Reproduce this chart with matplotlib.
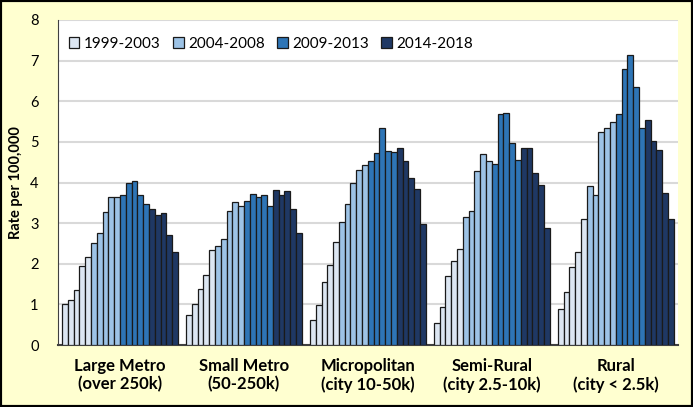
import matplotlib.pyplot as plt
import matplotlib.patches as patches
import numpy as np

plt.rcParams['font.family'] = ['Lato', 'DejaVu Sans']

# categories and yearly rates (1999-2018) per category
categories = ['Large Metro\n(over 250k)', 'Small Metro\n(50-250k)', 'Micropolitan\n(city 10-50k)',
              'Semi-Rural\n(city 2.5-10k)', 'Rural\n(city < 2.5k)']
periods = ['1999-2003', '2004-2008', '2009-2013', '2014-2018']
colors = ['#DCE6F2', '#9DC3E6', '#2E75B6', '#1F3864']

large_metro = [1.00, 1.11, 1.35, 1.94, 2.17, 2.52, 2.77, 3.27, 3.65, 3.65,
               3.70, 3.99, 4.03, 3.69, 3.47, 3.36, 3.21, 3.26, 2.72, 2.28]
small_metro = [0.74, 1.00, 1.39, 1.72, 2.34, 2.44, 2.62, 3.29, 3.51, 3.42,
               3.54, 3.71, 3.65, 3.69, 3.43, 3.81, 3.70, 3.79, 3.34, 2.76]
micropolitan = [0.61, 0.99, 1.55, 1.98, 2.53, 3.03, 3.46, 4.00, 4.30, 4.42,
                4.52, 4.73, 5.33, 4.78, 4.74, 4.85, 4.54, 4.11, 3.83, 2.97]
semi_rural = [0.55, 0.93, 1.70, 2.07, 2.36, 3.16, 3.29, 4.28, 4.69, 4.52,
              4.46, 5.68, 5.71, 4.98, 4.55, 4.86, 4.86, 4.23, 3.95, 2.87]
rural = [0.89, 1.30, 1.93, 2.29, 3.10, 3.91, 3.70, 5.25, 5.34, 5.48,
         5.68, 6.79, 7.13, 6.34, 5.34, 5.55, 5.02, 4.80, 3.74, 3.10]

data = np.array([large_metro, small_metro, micropolitan, semi_rural, rural])

fig = plt.figure(figsize=(6.93, 4.07), dpi=100)
fig.patch.set_facecolor('#FFFFD0')
ax = fig.add_axes([0.0837, 0.152, 0.8943, 0.799])

nyears = data.shape[1]
w = 0.935 / nyears
for i in range(nyears):
    x = np.arange(len(categories)) + (i - (nyears - 1) / 2) * w
    p = i // 5
    ax.bar(x, data[:, i], width=w, color=colors[p], edgecolor='#1a1a1a',
           linewidth=0.9, zorder=3, label=periods[p] if i % 5 == 0 else None)

ax.set_xlim(-0.5, len(categories) - 0.5)
ax.set_ylim(0, 8)
ax.set_yticks(range(0, 9))
ax.set_xticks(range(len(categories)))
ax.set_xticklabels(categories, fontsize=12, fontweight='bold', linespacing=1.2)
ax.tick_params(axis='both', length=0)
ax.tick_params(axis='x', pad=9)
ax.tick_params(axis='y', pad=14, labelsize=10.5)
ax.grid(axis='y', color='#D9D9D9', linewidth=1.5, zorder=0)
ax.set_axisbelow(True)
for s in ['top', 'right']:
    ax.spines[s].set_visible(False)
ax.spines['left'].set_color('#404040')
ax.spines['bottom'].set_color('#404040')
ax.spines['bottom'].set_linewidth(1.5)
ax.set_ylabel('Rate per 100,000', fontsize=10.5, fontweight='bold', labelpad=5)

ax.legend(loc='upper left', ncol=4, frameon=False, fontsize=11, handlelength=0.7,
          handleheight=0.7, handletextpad=0.3, columnspacing=0.8,
          bbox_to_anchor=(0.0, 0.98), borderaxespad=0.3)

# figure border
fig.patches.append(patches.Rectangle((0, 0), 1, 1, transform=fig.transFigure,
                                     fill=False, edgecolor='black', linewidth=3))

fig.savefig('out.png', dpi=100, facecolor=fig.get_facecolor())
